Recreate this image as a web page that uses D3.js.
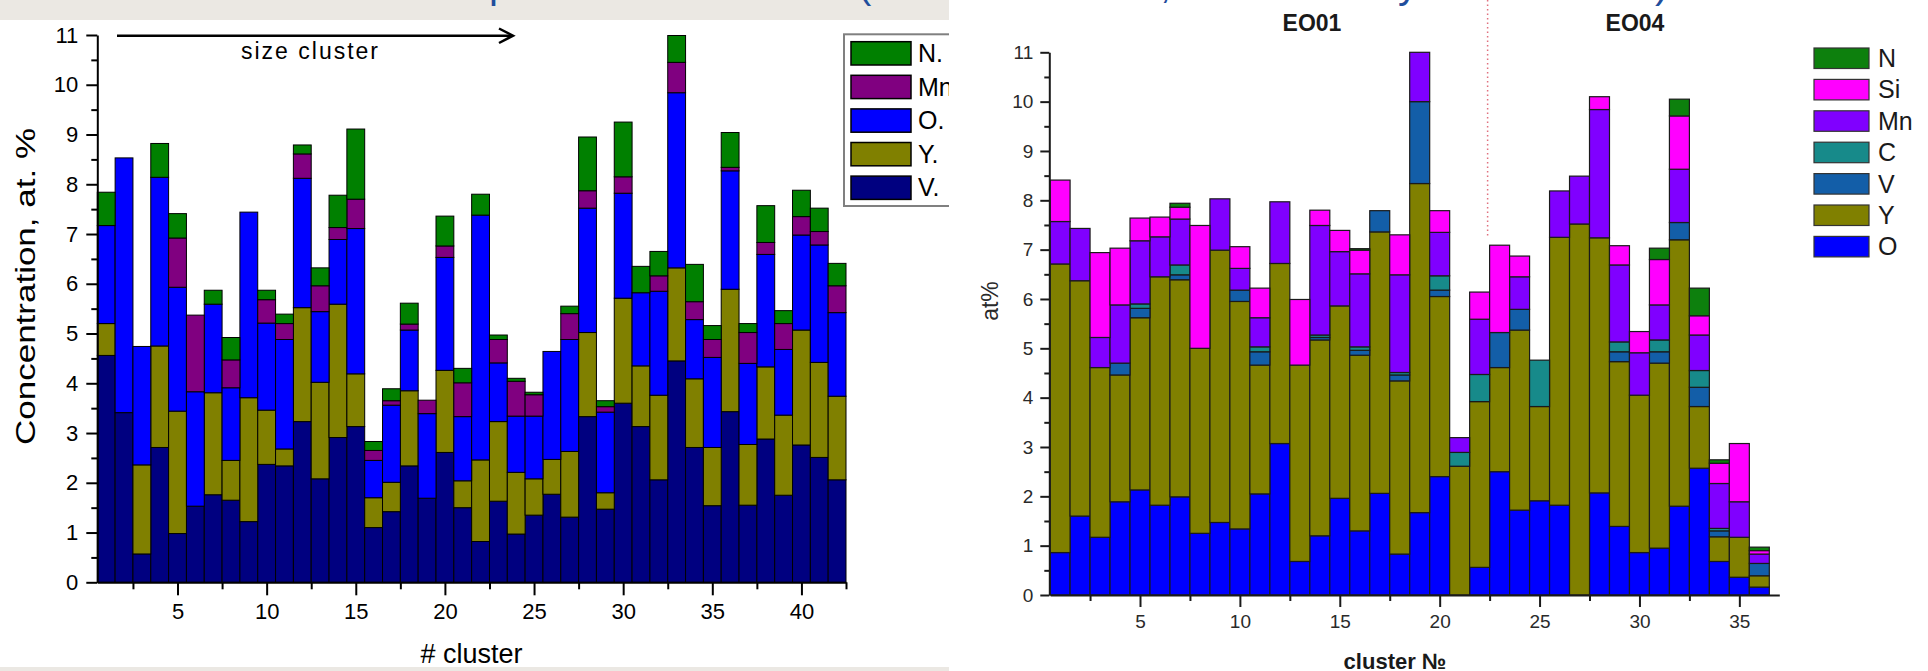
<!DOCTYPE html>
<html lang="en">
  <head>
    <meta charset="utf-8">
    <title>Cluster composition</title>
    <script src="https://d3js.org/d3.v7.min.js"></script>
    <style>
      body { margin: 0; background: #fff; }
      text { font-family: "Liberation Sans", Arial, sans-serif; }
    </style>
  </head>
  <body>
    <script type="text/javascript">

      var w = 1928;
      var h = 671;

      // ---- left chart: 42 clusters, stacked V, Y, O, Mn, N ----
      var clustersL = d3.range(1, 43);
      var keysL = ["V", "Y", "O", "Mn", "N"];
      var legendL = ["N.", "Mn", "O.", "Y.", "V."];
      var vL  = [4.56,3.41,0.57,2.71,0.98,1.53,1.76,1.65,1.22,2.37,2.34,3.23,2.08,2.91,3.13,1.10,1.42,2.34,1.69,2.61,1.50,
                 0.82,1.63,0.97,1.35,1.77,1.31,3.33,1.47,3.60,3.13,2.06,4.45,2.71,1.54,3.43,1.55,2.88,1.75,2.76,2.51,2.06];
      var yL  = [0.64,0,1.79,2.04,2.46,0,2.05,0.80,2.49,1.09,0.34,2.29,1.94,2.68,1.06,0.60,0.59,1.51,0,1.65,0.54,
                 1.64,1.60,1.24,0.73,0.70,1.32,1.69,0.33,2.11,1.22,1.70,1.87,1.38,1.17,2.46,1.22,1.45,1.61,2.31,1.91,1.68];
      var oL  = [1.97,5.12,2.38,3.39,2.49,2.30,1.78,1.46,3.73,1.75,2.20,2.60,1.42,1.30,2.92,0.75,1.55,1.22,1.70,2.27,1.29,
                 4.92,1.18,1.13,1.26,2.17,2.25,2.50,1.62,2.11,1.47,2.09,3.52,1.19,1.81,2.38,1.63,2.26,1.32,1.91,2.36,1.68];
      var mnL = [0,0,0,0,0.99,1.54,0,0.56,0,0.47,0.32,0.49,0.52,0.24,0.59,0.20,0.09,0.12,0.27,0.23,0.68,
                 0,0.47,0.70,0.43,0,0.52,0.35,0.11,0.33,0,0.31,0.61,0.36,0.36,0.07,0.62,0.24,0.52,0.37,0.27,0.54];
      var nL  = [0.67,0,0,0.68,0.49,0,0.28,0.45,0,0.19,0.19,0.18,0.36,0.65,1.41,0.18,0.24,0.42,0,0.60,0.29,
                 0.42,0.09,0.06,0.05,0,0.15,1.08,0.12,1.10,0.53,0.49,0.54,0.75,0.28,0.70,0.18,0.74,0.26,0.53,0.47,0.45];

      // ---- right chart: 36 clusters, stacked O, Y, V, C, Mn, Si, N ----
      var clustersR = d3.range(1, 37);
      var keysR = ["O", "Y", "V", "C", "Mn", "Si", "N"];
      var legendR = ["N", "Si", "Mn", "C", "V", "Y", "O"];
      var oR  = [0.86,1.60,1.17,1.89,2.13,1.82,1.99,1.25,1.47,1.34,2.05,3.07,0.68,1.20,1.96,1.30,2.06,0.83,
                 1.67,2.40,0,0.56,2.50,1.72,1.91,1.82,0,2.07,1.39,0.86,0.95,1.80,2.57,0.68,0.36,0.16];
      var yR  = [5.85,4.77,3.44,2.57,3.49,4.63,4.40,3.75,5.52,4.61,2.61,3.65,3.98,3.97,3.90,3.56,5.30,3.51,
                 6.67,3.65,2.61,3.36,2.11,3.65,1.91,5.43,7.52,5.17,3.34,3.19,3.75,5.40,1.25,0.50,0.81,0.23];
      var vR  = [0,0,0,0.24,0.19,0,0.10,0,0,0.23,0.27,0,0,0.05,0,0.10,0.43,0.12,
                 1.66,0.13,0,0,0.71,0.42,0,0,0,0,0.20,0,0.23,0.35,0.39,0.12,0,0.25];
      var cR  = [0,0,0,0,0.09,0,0.20,0,0,0,0.10,0,0,0.05,0,0.07,0,0.05,
                 0,0.29,0.28,0.55,0,0,0.94,0,0,0,0.20,0,0.24,0,0.34,0.05,0,0];
      var mnR = [0.86,1.06,0.61,1.18,1.28,0.81,0.93,0,1.04,0.44,0.59,1.25,0,2.22,1.10,1.48,0,1.98,
                 1.00,0.88,0.30,1.12,0,0.66,0,0.94,0.97,2.60,1.56,0.86,0.71,1.08,0.72,0.91,0.72,0.19];
      var siR = [0.84,0,1.72,1.15,0.46,0.40,0.24,2.49,0,0.44,0.60,0,1.33,0.31,0.43,0.48,0,0.81,
                 0,0.44,0,0.55,1.77,0.42,0,0,0,0.26,0.39,0.43,0.92,1.08,0.39,0.41,1.18,0.07];
      var nR  = [0,0,0,0,0,0,0.08,0,0,0,0,0,0,0,0,0.03,0,0,
                 0,0,0,0,0,0,0,0,0,0,0,0,0.23,0.34,0.56,0.07,0,0.07];

      var yTicks = d3.range(0, 12);
      var xTicksL = [5, 10, 15, 20, 25, 30, 35, 40];
      var xTicksR = [5, 10, 15, 20, 25, 30, 35];

      var colorL = {V: "#000080", Y: "#808000", O: "#0000ff", Mn: "#800080", N: "#008000"};
      var colorR = {O: "#0000ff", Y: "#808000", V: "#135ea8", C: "#178a8a", Mn: "#8000ff", Si: "#ff00ff", N: "#0d800d"};

      var rowsL = clustersL.map((c, i) => ({c: c, V: vL[i], Y: yL[i], O: oL[i], Mn: mnL[i], N: nL[i]}));
      var rowsR = clustersR.map((c, i) => ({c: c, O: oR[i], Y: yR[i], V: vR[i], C: cR[i], Mn: mnR[i], Si: siR[i], N: nR[i]}));

      var svg = d3.select("body")
                  .append("svg")
                  .attr("width", w)
                  .attr("height", h);

      svg.append("rect").attr("width", w).attr("height", h).attr("fill", "#fff");

      // left panel is a cropped picture
      svg.append("clipPath").attr("id", "clipL")
         .append("rect").attr("x", 0).attr("y", 0).attr("width", 949).attr("height", h);

      var left = svg.append("g").attr("clip-path", "url(#clipL)");

      left.append("rect").attr("x", 0).attr("y", 0).attr("width", 949).attr("height", 20).attr("fill", "#ebe8e3");
      left.append("rect").attr("x", 0).attr("y", 667).attr("width", 949).attr("height", 4).attr("fill", "#ebe8e3");

      // bits of the slide title showing above both pictures
      var frag = [{t: "p", x: 489}, {t: "(", x: 858}, {t: ",", x: 1160}, {t: "y", x: 1398}, {t: ")", x: 1655}];
      svg.selectAll(".frag")
         .data(frag)
         .enter()
         .append("text")
         .attr("x", d => d.x)
         .attr("y", -2)
         .attr("font-size", 40)
         .attr("fill", "#1f4e9c")
         .text(d => d.t);

      var xL = d3.scaleLinear().domain([0.5, 42.5]).range([97.3, 846]);
      var yLs = d3.scaleLinear().domain([0, 11]).range([582.3, 35]);

      var stackL = d3.stack().keys(keysL)(rowsL);

      left.selectAll(".serL")
          .data(stackL)
          .enter()
          .append("g")
          .attr("fill", d => colorL[d.key])
          .selectAll("rect")
          .data(d => d.filter(s => s[1] - s[0] > 0.001))
          .enter()
          .append("rect")
          .attr("x", d => xL(d.data.c - 0.5))
          .attr("width", d => xL(d.data.c + 0.5) - xL(d.data.c - 0.5))
          .attr("y", d => yLs(d[1]))
          .attr("height", d => yLs(d[0]) - yLs(d[1]))
          .attr("stroke", "#000")
          .attr("stroke-width", 1);

      var gyL = left.append("g").attr("transform", "translate(97.3,0)");
      gyL.call(d3.axisLeft(yLs).tickValues(yTicks).tickSize(11).tickSizeOuter(0));
      gyL.append("g").call(d3.axisLeft(yLs).tickValues(d3.range(0.5, 11, 1)).tickSize(6).tickFormat(""))
         .select(".domain").remove();
      gyL.selectAll("text").attr("x", -19).attr("font-size", 22).attr("fill", "#000");

      var gxL = left.append("g").attr("transform", "translate(0,582.3)");
      gxL.call(d3.axisBottom(xL).tickValues(xTicksL).tickSize(13).tickSizeOuter(0));
      gxL.append("g").call(d3.axisBottom(xL).tickValues(d3.range(2.5, 43, 5)).tickSize(7).tickFormat(""))
         .select(".domain").remove();
      gxL.selectAll("text").attr("y", 21).attr("font-size", 22).attr("fill", "#000");
      left.selectAll(".domain, .tick line").attr("stroke", "#000").attr("stroke-width", 2);

      left.append("text")
          .attr("transform", "translate(35,286.5) rotate(-90)")
          .attr("text-anchor", "middle")
          .attr("font-size", 27)
          .attr("textLength", 317)
          .attr("lengthAdjust", "spacingAndGlyphs")
          .text("Concentration, at. %");

      left.append("text")
          .attr("x", 471.5).attr("y", 663)
          .attr("text-anchor", "middle")
          .attr("font-size", 27)
          .text("# cluster");

      // size arrow
      left.append("line").attr("x1", 117).attr("x2", 512).attr("y1", 35.7).attr("y2", 35.7)
          .attr("stroke", "#000").attr("stroke-width", 2.5);
      left.append("path").attr("d", "M499,28.5 L513,35.7 L499,43")
          .attr("fill", "none").attr("stroke", "#000").attr("stroke-width", 2.5);
      left.append("text")
          .attr("x", 309.5).attr("y", 59)
          .attr("text-anchor", "middle")
          .attr("font-size", 23)
          .attr("textLength", 137)
          .text("size cluster");

      // legend (cut by the panel edge)
      var lgL = left.append("g");
      lgL.append("rect").attr("x", 844).attr("y", 34.3).attr("width", 200).attr("height", 171.7)
         .attr("fill", "#fff").attr("stroke", "#808080").attr("stroke-width", 2);
      lgL.selectAll(".sw")
         .data(legendL)
         .enter()
         .append("rect")
         .attr("x", 851).attr("width", 60)
         .attr("y", (d, i) => 41.7 + i * 33.6).attr("height", 23.3)
         .attr("fill", (d, i) => colorL[keysL[keysL.length - 1 - i]])
         .attr("stroke", "#000").attr("stroke-width", 1.5);
      lgL.selectAll(".lab")
         .data(legendL)
         .enter()
         .append("text")
         .attr("x", 918)
         .attr("y", (d, i) => 62 + i * 33.6)
         .attr("font-size", 25)
         .text(d => d);

      // ---- right chart ----
      var xR = d3.scaleLinear().domain([0.5, 37]).range([1050.1, 1779.3]);
      var yRs = d3.scaleLinear().domain([0, 11]).range([595, 52.3]);

      var right = svg.append("g");

      right.append("line")
           .attr("x1", xR(22.4)).attr("x2", xR(22.4))
           .attr("y1", 0).attr("y2", yRs(7.26))
           .attr("stroke", "#e0707e").attr("stroke-width", 1.5)
           .attr("stroke-dasharray", "1.5,3");

      var stackR = d3.stack().keys(keysR)(rowsR);

      right.selectAll(".serR")
           .data(stackR)
           .enter()
           .append("g")
           .attr("fill", d => colorR[d.key])
           .selectAll("rect")
           .data(d => d.filter(s => s[1] - s[0] > 0.001))
           .enter()
           .append("rect")
           .attr("x", d => xR(d.data.c - 0.5))
           .attr("width", d => xR(d.data.c + 0.5) - xR(d.data.c - 0.5))
           .attr("y", d => yRs(d[1]))
           .attr("height", d => yRs(d[0]) - yRs(d[1]))
           .attr("stroke", "#1a1a1a")
           .attr("stroke-width", 1.2);

      var gyR = right.append("g").attr("transform", "translate(1049.3,0)");
      gyR.call(d3.axisLeft(yRs).tickValues(yTicks).tickSize(9).tickSizeOuter(0));
      gyR.append("g").call(d3.axisLeft(yRs).tickValues(d3.range(0.5, 11, 1)).tickSize(5).tickFormat(""))
         .select(".domain").remove();
      gyR.selectAll("text").attr("x", -16).attr("font-size", 19).attr("fill", "#2a2a2a");

      var gxR = right.append("g").attr("transform", "translate(0,595)");
      gxR.call(d3.axisBottom(xR).tickValues(xTicksR).tickSize(12).tickSizeOuter(0));
      gxR.append("g").call(d3.axisBottom(xR).tickValues(d3.range(2.5, 33, 5)).tickSize(6).tickFormat(""))
         .select(".domain").remove();
      gxR.selectAll("text").attr("y", 20).attr("font-size", 19).attr("fill", "#2a2a2a");
      right.selectAll(".domain, .tick line").attr("stroke", "#1a1a1a").attr("stroke-width", 2);

      right.append("text")
           .attr("transform", "translate(998,301) rotate(-90)")
           .attr("text-anchor", "middle")
           .attr("font-size", 23)
           .attr("fill", "#2a2a2a")
           .text("at%");

      right.append("text")
           .attr("x", 1395).attr("y", 669)
           .attr("text-anchor", "middle")
           .attr("font-size", 22)
           .attr("font-weight", "bold")
           .attr("fill", "#1a1a1a")
           .text("cluster №");

      right.append("text").attr("x", 1312).attr("y", 31).attr("text-anchor", "middle")
           .attr("font-size", 23).attr("font-weight", "bold").attr("fill", "#1a1a1a").text("EO01");
      right.append("text").attr("x", 1635).attr("y", 31).attr("text-anchor", "middle")
           .attr("font-size", 23).attr("font-weight", "bold").attr("fill", "#1a1a1a").text("EO04");

      var lgR = right.append("g");
      lgR.selectAll(".sw")
         .data(legendR)
         .enter()
         .append("rect")
         .attr("x", 1814).attr("width", 55)
         .attr("y", (d, i) => 48 + i * 31.4).attr("height", 20.5)
         .attr("fill", d => colorR[d])
         .attr("stroke", "#333").attr("stroke-width", 1.2);
      lgR.selectAll(".lab")
         .data(legendR)
         .enter()
         .append("text")
         .attr("x", 1878)
         .attr("y", (d, i) => 67 + i * 31.4)
         .attr("font-size", 25)
         .attr("fill", "#1a1a1a")
         .text(d => d);

    </script>
  </body>
</html>
